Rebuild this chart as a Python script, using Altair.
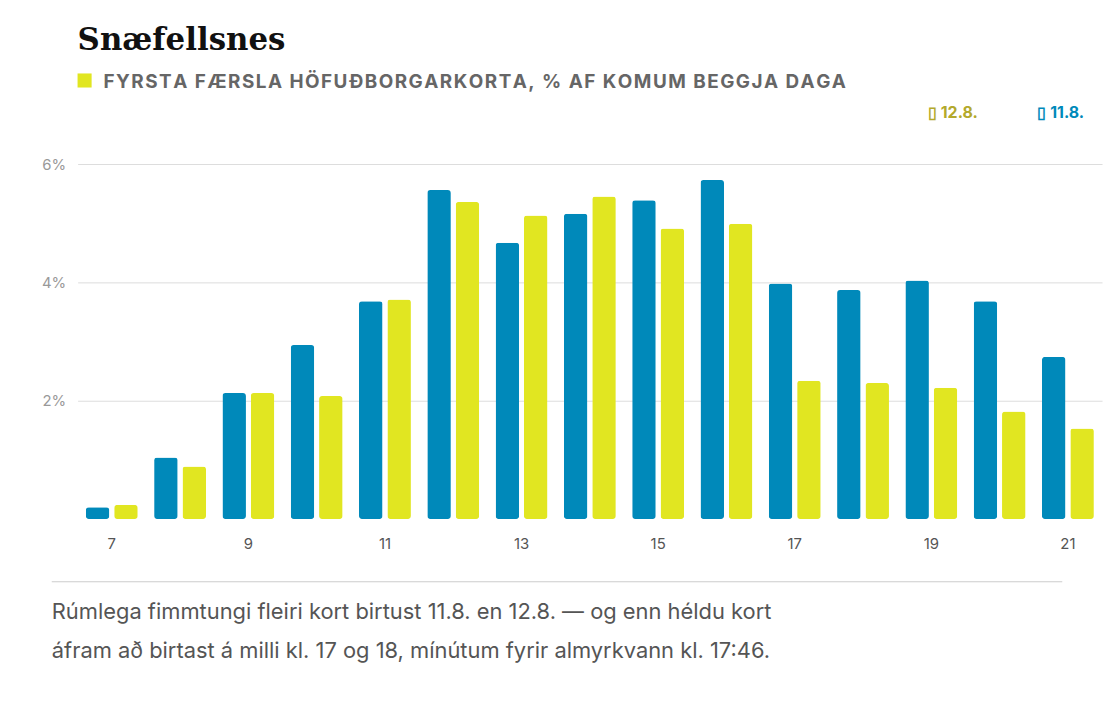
import altair as alt
import pandas as pd

hours = list(range(7, 22))
day_11 = [0.20, 1.04, 2.13, 2.94, 3.68, 5.56, 4.67, 5.16, 5.39, 5.73, 3.98, 3.87, 4.03, 3.68, 2.74]
day_12 = [0.24, 0.89, 2.13, 2.08, 3.71, 5.36, 5.13, 5.45, 4.91, 4.99, 2.34, 2.30, 2.22, 1.82, 1.53]
days = ["11.8.", "12.8."]
colors = ["#0089ba", "#e1e621"]

rows = []
for h, a, b in zip(hours, day_11, day_12):
    rows.append({"hour": h, "day": days[0], "value": a})
    rows.append({"hour": h, "day": days[1], "value": b})
data = pd.DataFrame(rows)

title = "Snæfellsnes"
subtitle = "FYRSTA FÆRSLA HÖFUÐBORGARKORTA, % AF KOMUM BEGGJA DAGA"
caption = ["Rúmlega fimmtungi fleiri kort birtust 11.8. en 12.8. — og enn héldu kort",
           "áfram að birtast á milli kl. 17 og 18, mínútum fyrir almyrkvann kl. 17:46."]

one = pd.DataFrame({"a": [0]})
sans = "Inter"

bars = alt.Chart(data).mark_bar(cornerRadius=3).encode(
    x=alt.X("hour:O", title=None,
            scale=alt.Scale(paddingInner=0.24, paddingOuter=0.12),
            axis=alt.Axis(labelAngle=0, domain=False, ticks=False, labelPadding=18,
                          labelFontSize=15, labelColor="#555", labelFont=sans,
                          labelExpr="datum.value % 2 == 1 ? datum.value : ''")),
    xOffset=alt.XOffset("day:N", sort=days, scale=alt.Scale(paddingInner=0.17)),
    y=alt.Y("value:Q", title=None, scale=alt.Scale(domain=[0, 6]),
            axis=alt.Axis(values=[2, 4, 6], domain=False, ticks=False, labelPadding=12,
                          labelFontSize=15, labelColor="#999", labelFont=sans,
                          labelExpr="datum.value + '%'", gridColor="#dddddd")),
    color=alt.Color("day:N", scale=alt.Scale(domain=days, range=colors), legend=None),
)

def txt(s, x, y, size, color, font=sans, weight="normal"):
    return alt.Chart(one).mark_text(align="left", baseline="alphabetic", fontSize=size,
                                    color=color, font=font, fontWeight=weight).encode(
        x=alt.value(x), y=alt.value(y), text=alt.value(s))

# letter spacing by thin spaces
spaced = "\u200a".join(subtitle)

square = alt.Chart(one).mark_square(size=200, color="#e1e621", opacity=1).encode(
    x=alt.value(7), y=alt.value(-84))
sep = alt.Chart(one).mark_rule(color="#cccccc").encode(
    x=alt.value(-26), x2=alt.value(990), y=alt.value(420))

chart = alt.layer(
    bars,
    txt(title, 0, -115, 31, "#111", font="DejaVu Serif", weight="bold"),
    square,
    txt(spaced, 26, -76, 19, "#666", weight="bold"),
    txt("▯ 12.8.", 855, -46, 16, "#b3a92c", weight="bold"),
    txt("▯ 11.8.", 965, -46, 16, "#0089ba", weight="bold"),
    sep,
    txt(caption[0], -26, 457, 22, "#555"),
    txt(caption[1], -26, 497, 22, "#555"),
).properties(
    width=1030, height=357,
    autosize=alt.AutoSizeParams(type="none"),
    padding={"left": 70, "top": 155, "right": 10, "bottom": 180},
).configure_view(stroke=None)

chart.save("out.html", embed_options={"renderer": "svg", "actions": False})
